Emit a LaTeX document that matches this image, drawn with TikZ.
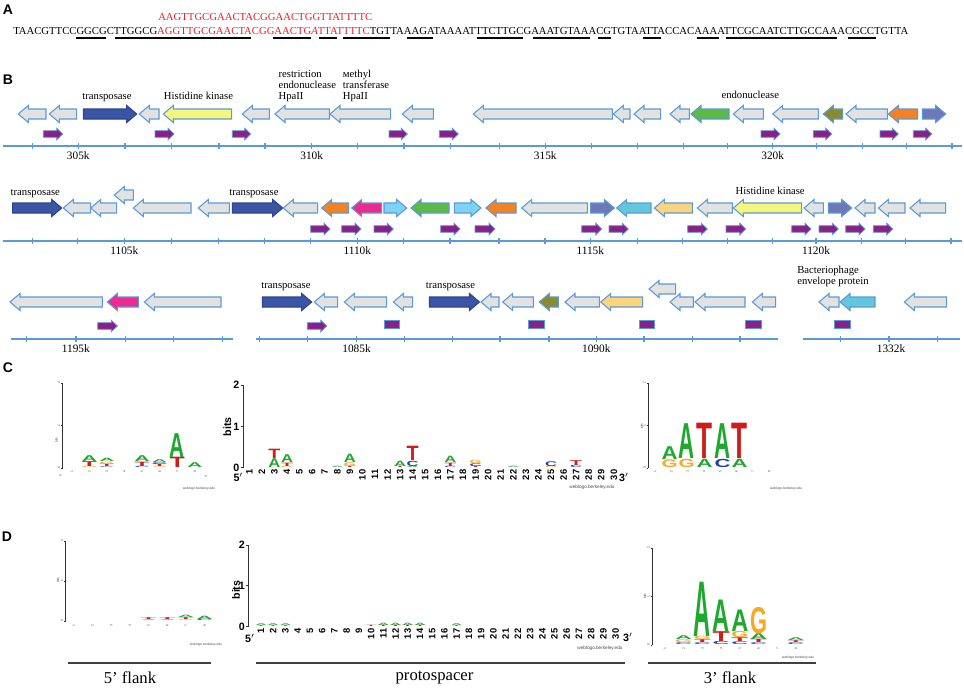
\documentclass[tikz,border=0pt]{standalone}
\usepackage{fontspec}
\setmainfont{Liberation Serif}
\setsansfont{Liberation Sans}
\usepackage{graphicx}
\newlength\pxu
\setlength\pxu{0.75pt}
\definecolor{edgeblue}{HTML}{5B9BD5}
\definecolor{ggray}{HTML}{E2E2E2}
\definecolor{tnp}{HTML}{3A55A4}
\definecolor{tnpedge}{HTML}{2C4590}
\definecolor{hkc}{HTML}{F7F57E}
\definecolor{grn}{HTML}{5DB945}
\definecolor{olv}{HTML}{8A8A30}
\definecolor{orng}{HTML}{F58220}
\definecolor{slt}{HTML}{6E78B9}
\definecolor{pnk}{HTML}{EC2A90}
\definecolor{skyb}{HTML}{7DD3F7}
\definecolor{cyn}{HTML}{63C7DB}
\definecolor{lor}{HTML}{FDD47E}
\definecolor{prp}{HTML}{8B1E87}
\definecolor{seqred}{HTML}{E8202A}
\definecolor{lA}{HTML}{1FA82E}
\definecolor{lC}{HTML}{1F3FB0}
\definecolor{lG}{HTML}{F9A825}
\definecolor{lT}{HTML}{D11A1A}
\tikzset{
  gene/.style={draw=edgeblue, line width=0.8pt, line join=miter},
  fgray/.style={fill=ggray},
  ftrans/.style={fill=tnp, draw=tnpedge},
  fhk/.style={fill=hkc},
  fgreen/.style={fill=grn},
  folive/.style={fill=olv},
  forange/.style={fill=orng},
  fslate/.style={fill=slt},
  fpink/.style={fill=pnk},
  fsky/.style={fill=skyb},
  fcyan/.style={fill=cyn},
  flor/.style={fill=lor},
  smarr/.style={fill=prp, draw=edgeblue, line width=0.6pt},
  axisl/.style={draw=edgeblue, line width=0.8pt},
  lab/.style={font=\fontsize{8}{9}\selectfont, inner sep=0pt},
  ticklab/.style={font=\fontsize{8.5}{9}\selectfont, inner sep=0pt},
  panel/.style={font=\sffamily\bfseries\fontsize{10.5}{12}\selectfont, inner sep=0pt},
  uline/.style={line width=1.1pt, draw=black},
  lax/.style={draw=black!80, line width=0.6pt},
  axnum/.style={font=\sffamily\bfseries\fontsize{8}{9}\selectfont, inner sep=0pt},
  numlab/.style={font=\sffamily\bfseries\fontsize{7}{8}\selectfont, inner sep=0pt},
  tinylab/.style={font=\sffamily\fontsize{2.5}{3}\selectfont, inner sep=0pt, text=black!70},
  flank/.style={font=\fontsize{12.5}{14}\selectfont, inner sep=0pt},
  flankline/.style={draw=black!75, line width=1.5pt}
}
\newcommand\GenR[4]{\filldraw[gene,#4] (#1,{#3-5}) -- ({#2-10},{#3-5}) -- ({#2-10},{#3-8.5}) -- (#2,#3) -- ({#2-10},{#3+8.5}) -- ({#2-10},{#3+5}) -- (#1,{#3+5}) -- cycle;}
\newcommand\GenL[4]{\filldraw[gene,#4] (#2,{#3-5}) -- ({#1+10},{#3-5}) -- ({#1+10},{#3-8.5}) -- (#1,#3) -- ({#1+10},{#3+8.5}) -- ({#1+10},{#3+5}) -- (#2,{#3+5}) -- cycle;}
\newcommand\SmR[3]{\filldraw[smarr] (#1,{#3-3.3}) -- ({#2-6},{#3-3.3}) -- ({#2-6},{#3-5.8}) -- (#2,#3) -- ({#2-6},{#3+5.8}) -- ({#2-6},{#3+3.3}) -- (#1,{#3+3.3}) -- cycle;}
\newcommand\SmB[3]{\filldraw[smarr] (#1,{#3-4}) rectangle (#2,{#3+4});}
\newcommand\BAxis[4]{\draw[axisl] (#1,#3) -- (#2,#3); \foreach \t in {#4} {\draw[axisl] (\t,{#3-3}) -- (\t,{#3+3});}}
\def\lw{12}
\newcommand\LG[4]{\pgfmathsetmacro\hh{max(#3-0.2,0.4)}\node[inner sep=0pt, outer sep=0pt, anchor=south, text=l#4] at (#1,{#2-0.1}) {\resizebox*{\lw\pxu}{\hh\pxu}{\sffamily\bfseries #4}};}
\newcommand\LStack[3]{\xdef\stky{#2}\foreach \L/\H in {#3}{\edef\tmpcmd{\noexpand\LG{#1}{\stky}{\H}{\L}}\tmpcmd\pgfmathsetmacro\tmpy{\stky-\H}\xdef\stky{\tmpy}}}
\begin{document}
\begin{tikzpicture}[x=0.75pt,y=-0.75pt]
\useasboundingbox (0,0) rectangle (964,690);
\fill[white] (0,0) rectangle (964,690);
% ---------------- Panel A
\node[panel] (pA) at (8,10) {A};
\node[anchor=base west, inner sep=0pt, text=seqred] (spacer) at (158,20) {\resizebox{160.5pt}{!}{\fontsize{10}{12}\selectfont AAGTTGCGAACTACGGAACTGGTTATTTTC}};
\node[anchor=base west, inner sep=0pt] (seq) at (13,34) {\resizebox{671.25pt}{!}{\fontsize{10}{12}\selectfont TAACGTTCCGGCGCTTGGCG\textcolor{seqred}{AGGTTGCGAACTACGGAACTG\textit{A}TTATTTTC}TGTTAAAGATAAAATTTCTTGCGAAATGTAAACGTGTAATTACCACAAAATTCGCAATCTTGCCAAACGCCTGTTA}};
\foreach \a/\b in {76/106,115/251,273/311,319/337,343/390,407/433,477/523,533/590,598/611,643/661,697/719,726/837,848/876}
  {\draw[uline] (\a,38) -- (\b,38);}
% ---------------- Panel B
\node[panel] (pB) at (8,80) {B};
% row 1
\GenL{18.3}{46}{114}{fgray}
\GenL{49.3}{76.7}{114}{fgray}
\GenR{83.3}{136.7}{114}{ftrans}
\GenL{139.3}{159}{114}{fgray}
\GenL{163.3}{231.7}{114}{fhk}
\GenL{242.3}{269.3}{114}{fgray}
\GenL{275}{329.3}{114}{fgray}
\GenL{330}{390.7}{114}{fgray}
\GenL{402.3}{433.3}{114}{fgray}
\GenL{473.3}{612.3}{114}{fgray}
\GenL{613.3}{630}{114}{fgray}
\GenL{634}{660.7}{114}{fgray}
\GenL{670}{689.3}{114}{fgray}
\GenL{691}{729}{114}{fgreen}
\GenL{733.3}{763.3}{114}{fgray}
\GenL{772.7}{818.3}{114}{fgray}
\GenL{823.3}{842.7}{114}{folive}
\GenL{846}{887.3}{114}{fgray}
\GenL{888.3}{917.7}{114}{forange}
\GenR{922.3}{945.7}{114}{fslate}
\foreach \a/\b in {43.3/62.7,155/174,232.3/250.7,389/407.3,439.3/458.3,761/780,813.3/831.7,880/898.3,913.3/931.7}
  {\SmR{\a}{\b}{134}}
\BAxis{3}{962}{146}{32.7,78.3,125,171.7,219,265,311.7,357.7,404,450.7,499.3,545.3,591.7,637.7,683.3,727.7,772.7,816.7,862.3,906.3,952}
\node[ticklab] (t305) at (78.3,156) {305k};
\node[ticklab] (t310) at (311.7,156) {310k};
\node[ticklab] (t315) at (545.3,156) {315k};
\node[ticklab] (t320) at (772.7,156) {320k};
\node[lab, anchor=base] (l1a) at (107,99.5) {transposase};
\node[lab, anchor=base] (l1b) at (198.5,99.5) {Histidine kinase};
\node[lab, anchor=base west] (l1c1) at (278.3,77) {restriction};
\node[lab, anchor=base west] (l1c2) at (278.3,88.3) {endonuclease};
\node[lab, anchor=base west] (l1c3) at (278.3,99.5) {HpaII};
\node[lab, anchor=base west] (l1d1) at (342.7,77) {мethyl};
\node[lab, anchor=base west] (l1d2) at (342.7,88.3) {transferase};
\node[lab, anchor=base west] (l1d3) at (342.7,99.5) {HpaII};
\node[lab, anchor=base] (l1e) at (750.3,98.7) {endonuclease};
% row 2
\GenR{12.7}{61.7}{208}{ftrans}
\GenL{63.3}{90.7}{208}{fgray}
\GenL{90.7}{116.7}{208}{fgray}
\GenL{114.3}{133.3}{195}{fgray}
\GenL{133.3}{191}{208}{fgray}
\GenL{198.3}{229.3}{208}{fgray}
\GenR{232.3}{282.7}{208}{ftrans}
\GenL{283.3}{317.7}{208}{fgray}
\GenL{321.7}{348.3}{208}{forange}
\GenL{351.7}{381.7}{208}{fpink}
\GenR{384}{406.7}{208}{fsky}
\GenL{411}{449}{208}{fgreen}
\GenR{454.3}{481}{208}{fsky}
\GenL{486}{516}{208}{forange}
\GenL{521.7}{587.3}{208}{fgray}
\GenR{590.7}{614.3}{208}{fslate}
\GenL{616.7}{651}{208}{fcyan}
\GenL{654.3}{692.3}{208}{flor}
\GenL{697.3}{732.3}{208}{fgray}
\GenL{733.3}{801.7}{208}{fhk}
\GenL{804}{823.3}{208}{fgray}
\GenR{828.3}{851.7}{208}{fslate}
\GenL{855}{875}{208}{fgray}
\GenL{878.3}{905}{208}{fgray}
\GenL{910}{945.7}{208}{fgray}
\foreach \a/\b in {310.7/330,341.7/361,374/393.3,440.7/460,475/495,581.7/601.7,609/628.3,687.7/707.3,726/745.7,791.7/811,819/838.3,845.7/865,873.3/892.7}
  {\SmR{\a}{\b}{229}}
\BAxis{3}{962}{241}{32.3,77.7,124.3,171.7,218.3,264.3,310.7,357.3,403.3,450,499,545,590.3,637.3,682.3,727.3,772.3,816,861.7,905.7,951}
\node[ticklab] (t1105) at (124.3,251) {1105k};
\node[ticklab] (t1110) at (357.3,251) {1110k};
\node[ticklab] (t1115) at (590.3,251) {1115k};
\node[ticklab] (t1120) at (816,251) {1120k};
\node[lab, anchor=base] (l2a) at (35.3,195) {transposase};
\node[lab, anchor=base] (l2b) at (254,195) {transposase};
\node[lab, anchor=base] (l2c) at (770.2,194.3) {Histidine kinase};
% row 3
\GenL{10}{102.3}{302}{fgray}
\GenL{107.3}{138.3}{302}{fpink}
\GenL{144.3}{221}{302}{fgray}
\GenR{262.3}{311.7}{302}{ftrans}
\GenL{314.3}{337.7}{302}{fgray}
\GenL{344.3}{386.7}{302}{fgray}
\GenL{393.3}{412.7}{302}{fgray}
\GenR{429.3}{479.5}{302}{ftrans}
\GenL{481}{499}{302}{fgray}
\GenL{502.7}{533.3}{302}{fgray}
\GenL{539.3}{558.3}{302}{folive}
\GenL{565}{599.3}{302}{fgray}
\GenL{600.7}{642.7}{302}{flor}
\GenL{649}{675.7}{289}{fgray}
\GenL{670}{693.3}{302}{fgray}
\GenL{695}{745}{302}{fgray}
\GenL{752.3}{775.7}{302}{fgray}
\GenL{819}{839}{302}{fgray}
\GenL{840}{875}{302}{fcyan}
\GenL{904.3}{946.7}{302}{fgray}
\SmR{97.7}{117.3}{326}
\SmR{307.3}{326.7}{326}
\foreach \a/\b in {384/399.3,528.3/544.3,639/654.3,745.7/761.7,834.3/850}
  {\SmB{\a}{\b}{324}}
\BAxis{10.7}{232.7}{339}{26.7,76,125.7,173.3,222.3}
\BAxis{256}{778.3}{339}{259.3,307.3,356.7,404.3,452.7,500,549,596.3,644,692.3,740}
\BAxis{803.3}{960}{339}{840.7,889,937.3}
\node[ticklab] (t1195) at (75.8,348.5) {1195k};
\node[ticklab] (t1085) at (356.5,348.5) {1085k};
\node[ticklab] (t1090) at (596.3,348.5) {1090k};
\node[ticklab] (t1332) at (891,348.5) {1332k};
\node[lab, anchor=base] (l3a) at (286,288) {transposase};
\node[lab, anchor=base] (l3b) at (450.5,288) {transposase};
\node[lab, anchor=base west] (l3c1) at (797,273) {Bacteriophage};
\node[lab, anchor=base west] (l3c2) at (797,284.5) {envelope protein};
% ---------------- Panel C
\node[panel] (pC) at (8,368) {C};
% left small logo
\draw[lax] (62.7,383) -- (62.7,468);
\foreach \v/\yy in {0/468,1/425.5,2/383} {\draw[lax] (61.2,\yy) -- (62.7,\yy); \node[tinylab, rotate=90, anchor=south] (cl\v) at (60.5,\yy) {\v};}
\node[tinylab, rotate=90] (clbits) at (56.5,440) {bits};
\foreach \k in {1,...,8} {\node[tinylab, rotate=90, anchor=east] (clk\k) at ({71.7+17.6*(\k-1)},470.5) {\k};}
\node[tinylab, rotate=90] (cl5) at (60.5,476) {5};
\node[tinylab, rotate=90] (cl3) at (206,477) {3};
\node[tinylab] (clw) at (199,488.5) {weblogo.berkeley.edu};
\def\lw{15}
\LStack{89.3}{468}{G/1.5,T/5,A/6}
\LStack{106.9}{468}{C/1,T/2.5,G/2.5,A/3.5}
\LStack{142.1}{468}{C/1.5,T/4.5,A/6}
\LStack{159.7}{468}{G/1,T/2.5,C/2,A/3}
\LStack{177.3}{468}{T/10.5,A/24}
\LStack{194.9}{468}{A/5}
% main logo
\draw[lax] (243.3,385) -- (243.3,467.7);
\foreach \v/\yy in {0/467.7,1/426.35,2/385} {\draw[lax] (240.5,\yy) -- (243.3,\yy); \node[axnum, anchor=east] (cm\v) at (239.5,\yy) {\v};}
\node[axnum, rotate=90] (cmbits) at (227.3,426.7) {bits};
\foreach \n in {1,...,30} {\node[numlab, rotate=90, anchor=east] (cn\n) at ({249.3+12.57*(\n-1)},469.5) {\n};}
\node[axnum] (c5p) at (238.3,477) {5$'$};
\node[axnum] (c3p) at (624,477) {3$'$};
\node[font=\sffamily\fontsize{3.5}{4}\selectfont, inner sep=0pt, text=black!70] (cweb) at (592,487.5) {weblogo.berkeley.edu};
\def\lw{12}
\LStack{274.4}{467.7}{A/9,T/9.5}
\LStack{287}{467.7}{G/1.5,T/3.5,A/8}
\LStack{337.3}{467.7}{A/1.5}
\LStack{349.9}{467.7}{T/1.5,G/4,A/8.5}
\LStack{400.2}{467.7}{T/1.5,A/5.5}
\LStack{412.7}{467.7}{A/1.5,C/5.5,T/14.5}
\LStack{450.4}{467.7}{C/1.5,T/3.5,A/6.5}
\LStack{475.6}{467.7}{T/1.5,C/3,G/3.5}
\LStack{513.3}{467.7}{A/1.5}
\LStack{551}{467.7}{G/1.5,C/5}
\LStack{576.1}{467.7}{C/2.5,T/5}
% right small logo
\draw[lax] (648,383) -- (648,468);
\foreach \v/\yy in {0/468,1/425.5,2/383} {\draw[lax] (646.5,\yy) -- (648,\yy); \node[tinylab, rotate=90, anchor=south] (cr\v) at (645.8,\yy) {\v};}
\node[tinylab, rotate=90] (crbits) at (641.8,426) {bits};
\foreach \k in {1,...,8} {\node[tinylab, rotate=90, anchor=east] (crk\k) at ({655+16.3*(\k-1)},470.5) {\k};}
\node[tinylab] (crw) at (786,489) {weblogo.berkeley.edu};
\def\lw{16}
\LStack{669.5}{467.5}{G/8,A/13}
\LStack{686.5}{467.5}{G/8.5,A/35}
\LStack{704.5}{467.5}{A/8.5,T/35.5}
\LStack{722.5}{467.5}{C/8.5,A/35}
\LStack{739.5}{467.5}{A/8.5,T/35.5}
% ---------------- Panel D
\node[panel] (pD) at (7,537) {D};
% left small logo
\draw[lax] (65.6,541) -- (65.6,621);
\foreach \v/\yy in {0/621,1/581,2/541} {\draw[lax] (64.1,\yy) -- (65.6,\yy); \node[tinylab, rotate=90, anchor=south] (dl\v) at (63.4,\yy) {\v};}
\node[tinylab, rotate=90] (dlbits) at (58,580) {bits};
\foreach \k in {1,...,8} {\node[tinylab, rotate=90, anchor=east] (dlk\k) at ({73.75+18.7*(\k-1)},624) {\k};}
\node[tinylab] (dlw) at (206,645) {weblogo.berkeley.edu};
\def\lw{16}
\LStack{148.55}{621}{A/1,T/2}
\LStack{167.25}{621}{A/1,T/2}
\LStack{185.95}{621}{G/1,T/2,A/2.5}
\LStack{204.65}{621}{C/1.5,A/3.5}
% main logo
\draw[lax] (248.75,545) -- (248.75,626.7);
\foreach \v/\yy in {0/626.7,1/585.85,2/545} {\draw[lax] (246,\yy) -- (248.75,\yy); \node[axnum, anchor=east] (dm\v) at (245,\yy) {\v};}
\node[axnum, rotate=90] (dmbits) at (236,590) {bits};
\foreach \n in {1,...,30} {\node[numlab, rotate=90, anchor=east] (dn\n) at ({261+12.23*(\n-1)},628.5) {\n};}
\node[axnum] (d5p) at (250,638) {5$'$};
\node[axnum] (d3p) at (628,637) {3$'$};
\node[font=\sffamily\fontsize{3.5}{4}\selectfont, inner sep=0pt, text=black!70] (dweb) at (600,648) {weblogo.berkeley.edu};
\def\lw{11}
\LStack{261}{626.7}{T/1,A/2}
\LStack{273.2}{626.7}{T/1,A/2}
\LStack{285.5}{626.7}{T/1,A/2}
\LStack{371.1}{626.7}{T/1.5}
\LStack{383.3}{626.7}{T/1.5,A/2.5}
\LStack{395.5}{626.7}{T/1.5,A/2.5}
\LStack{407.7}{626.7}{T/1.5,A/2.5}
\LStack{420}{626.7}{T/1.5,A/2.5}
\LStack{456.7}{626.7}{T/1,A/2}
% right small logo
\draw[lax] (652,548) -- (652,645);
\foreach \v/\yy in {0/645,1/596.5,2/548} {\draw[lax] (650.5,\yy) -- (652,\yy); \node[tinylab, rotate=90, anchor=south] (dr\v) at (649.8,\yy) {\v};}
\node[tinylab, rotate=90] (drbits) at (645,596) {bits};
\foreach \k in {1,...,8} {\node[tinylab, rotate=90, anchor=east] (drk\k) at ({665+18.7*(\k-1)},647.5) {\k};}
\node[tinylab] (drw) at (798,658) {weblogo.berkeley.edu};
\def\lw{17}
\LStack{683.7}{645}{C/2,G/3,A/4}
\LStack{702.4}{645}{C/2,T/3,G/3.5,A/54.5}
\LStack{721.1}{645}{C/3.3,T/10,A/31.7}
\LStack{739.8}{645}{C/3,T/4,G/6.3,A/21.7}
\LStack{758.5}{645}{C/2,T/3.5,A/6,G/26.6}
\LStack{795.9}{645}{C/2,T/2,A/3}
% flank lines and labels
\draw[flankline] (67.5,663) -- (211,663);
\draw[flankline] (256,663) -- (625,663);
\draw[flankline] (648,663) -- (815.6,663);
\node[flank] (f5) at (130,678) {5’ flank};
\node[flank] (fps) at (434.5,678) {protospacer};
\node[flank] (f3) at (730,678) {3’ flank};
\end{tikzpicture}
\end{document}
